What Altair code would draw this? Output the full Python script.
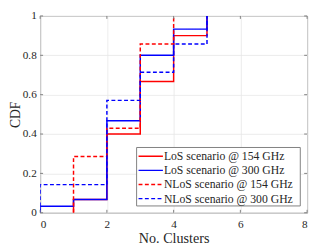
import altair as alt
import pandas as pd

series = ["LoS scenario @ 154 GHz", "LoS scenario @ 300 GHz",
          "NLoS scenario @ 154 GHz", "NLoS scenario @ 300 GHz"]
colors = ["#ff0000", "#0000ff", "#ff0000", "#0000ff"]
dashes = [[1, 0], [1, 0], [4, 2.5], [4, 2.5]]

los154_x = [1, 1, 2, 3, 4, 5]
los154_y = [0, 0.067, 0.4, 0.667, 0.9, 1.0]
los300_x = [0, 0, 1, 2, 3, 4, 5]
los300_y = [0, 0.033, 0.067, 0.467, 0.8, 0.933, 1.0]
nlos154_x = [1, 1, 2, 3, 4]
nlos154_y = [0, 0.286, 0.429, 0.857, 1.0]
nlos300_x = [0, 0, 2, 3, 4, 5]
nlos300_y = [0, 0.143, 0.571, 0.714, 0.857, 1.0]

x_ticks = [0, 2, 4, 6, 8]
y_ticks = [0, 0.2, 0.4, 0.6, 0.8, 1.0]

rows = []
for i, (s, xs, ys) in enumerate(zip(series,
                                     [los154_x, los300_x, nlos154_x, nlos300_x],
                                     [los154_y, los300_y, nlos154_y, nlos300_y])):
    for j, (xv, yv) in enumerate(zip(xs, ys)):
        rows.append({"series": s, "order": i, "idx": j, "x": xv, "y": yv})
df = pd.DataFrame(rows)

W, H = 274, 202
FONT = "Liberation Serif, Times New Roman, serif"
TXT = "#262626"

xscale = alt.Scale(domain=[0, 8], nice=False)
yscale = alt.Scale(domain=[0, 1], nice=False)

lines = alt.Chart(df).mark_line(interpolate="step-after", strokeWidth=1.5, clip=True).encode(
    x=alt.X("x:Q", scale=xscale,
            axis=alt.Axis(values=x_ticks, title="No. Clusters", grid=True,
                          tickSize=0, labelPadding=6, titlePadding=2, domain=False)),
    y=alt.Y("y:Q", scale=yscale,
            axis=alt.Axis(values=y_ticks, title="CDF", grid=True, tickSize=0,
                          labelPadding=4, domain=False, titleX=-18, titleY=H / 2,
                          titleBaseline="bottom", titleAngle=270, titleFontSize=14,
                          labelExpr="datum.value == 0 ? '0' : datum.value == 1 ? '1' : format(datum.value, '.1f')")),
    color=alt.Color("series:N", scale=alt.Scale(domain=series, range=colors), legend=None),
    strokeDash=alt.StrokeDash("series:N", scale=alt.Scale(domain=series, range=dashes), legend=None),
    detail="series:N",
    order="idx:Q",
)

tickdf = pd.DataFrame({"v": x_ticks})
ytickdf = pd.DataFrame({"v": y_ticks})
tick_col = "#7f7f7f"
xt_bottom = alt.Chart(tickdf).mark_rule(color=tick_col, strokeWidth=1).encode(
    x=alt.X("v:Q", scale=xscale), y=alt.value(H), y2=alt.value(H - 3))
xt_top = alt.Chart(tickdf).mark_rule(color=tick_col, strokeWidth=1).encode(
    x=alt.X("v:Q", scale=xscale), y=alt.value(0), y2=alt.value(3))
yt_left = alt.Chart(ytickdf).mark_rule(color=tick_col, strokeWidth=1).encode(
    y=alt.Y("v:Q", scale=yscale), x=alt.value(0), x2=alt.value(3))
yt_right = alt.Chart(ytickdf).mark_rule(color=tick_col, strokeWidth=1).encode(
    y=alt.Y("v:Q", scale=yscale), x=alt.value(W), x2=alt.value(W - 3))

# manual legend (plot-area pixel coordinates)
LX0, LX1, LY0, LY1 = 99, 267, 135, 195
row_y = [144, 158.5, 173, 187.5]
one = pd.DataFrame({"a": [0]})
legend_layers = [
    alt.Chart(one).mark_rect(fill="white", stroke="#7f7f7f", strokeWidth=1).encode(
        x=alt.value(LX0), x2=alt.value(LX1), y=alt.value(LY0), y2=alt.value(LY1))
]
for s, c, d, ry in zip(series, colors, dashes, row_y):
    legend_layers.append(
        alt.Chart(one).mark_rule(color=c, strokeWidth=1.5, strokeDash=d).encode(
            x=alt.value(LX0 + 2), x2=alt.value(LX0 + 27), y=alt.value(ry)))
    legend_layers.append(
        alt.Chart(one).mark_text(text=s, align="left", baseline="middle",
                                 font=FONT, fontSize=12, color=TXT).encode(
            x=alt.value(LX0 + 28), y=alt.value(ry)))

chart = alt.layer(lines, xt_bottom, xt_top, yt_left, yt_right, *legend_layers).properties(
    width=W, height=H,
    autosize=alt.AutoSizeParams(type="none"),
    padding={"left": 33, "top": 5, "right": 4, "bottom": 33},
).configure_view(
    stroke="#7f7f7f", strokeWidth=1
).configure_axis(
    labelFont=FONT, titleFont=FONT, labelFontSize=11.5, titleFontSize=14.5,
    labelColor=TXT, titleColor=TXT, titleFontWeight="normal",
    gridColor="#e6e6e6", gridWidth=0.8
)

chart.save("out.html", embed_options={"renderer": "svg", "actions": False})
